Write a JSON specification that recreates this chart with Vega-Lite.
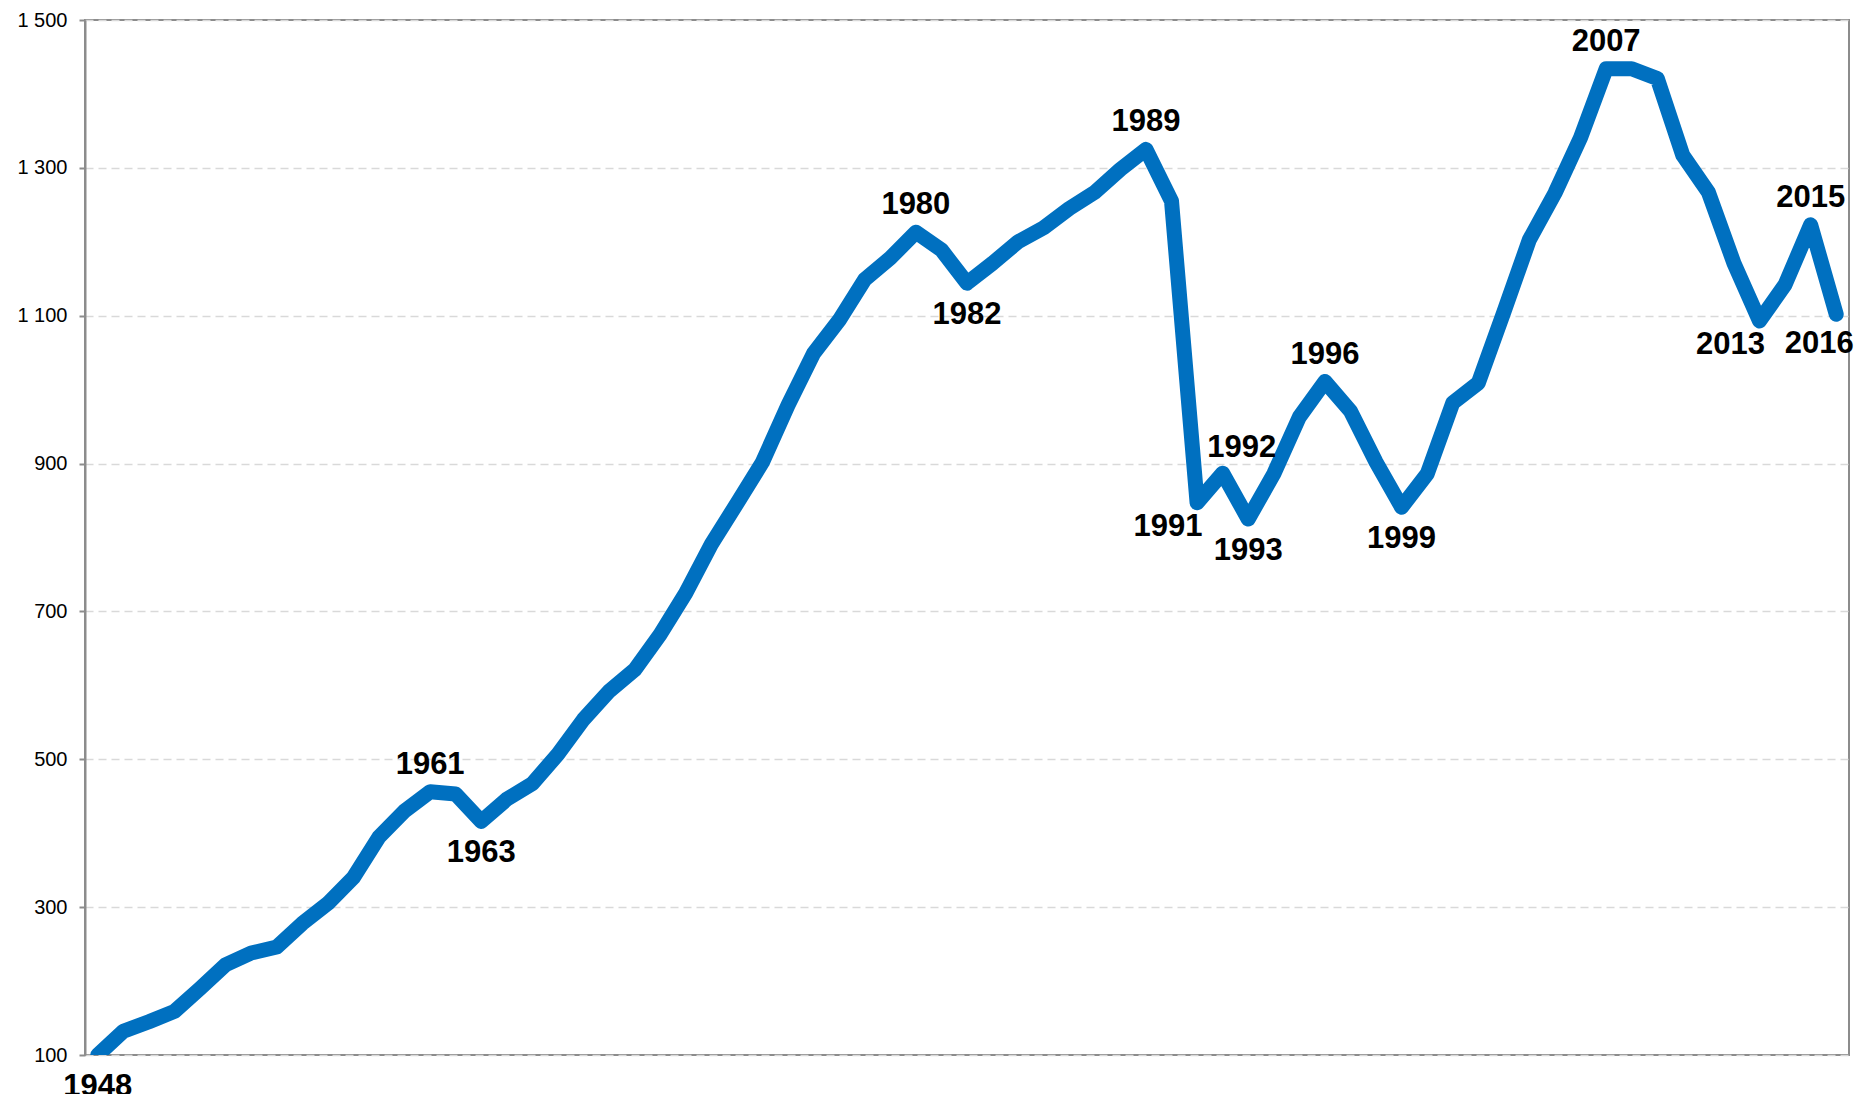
{
  "$schema": "https://vega.github.io/schema/vega-lite/v6.json",
  "width": 1764,
  "height": 1035,
  "autosize": {"type": "none"},
  "padding": {"left": 85, "top": 20, "right": 10, "bottom": 39},
  "background": "white",
  "config": {
    "view": {"stroke": "#8c8c8c", "strokeWidth": 2},
    "font": "Liberation Sans"
  },
  "data": {
    "values": [
      {"year": 1948, "value": 100, "pos": "below"},
      {"year": 1949, "value": 132},
      {"year": 1950, "value": 145},
      {"year": 1951, "value": 159},
      {"year": 1952, "value": 190},
      {"year": 1953, "value": 222},
      {"year": 1954, "value": 238},
      {"year": 1955, "value": 246},
      {"year": 1956, "value": 278},
      {"year": 1957, "value": 305},
      {"year": 1958, "value": 340},
      {"year": 1959, "value": 395},
      {"year": 1960, "value": 430},
      {"year": 1961, "value": 456, "pos": "above"},
      {"year": 1962, "value": 453},
      {"year": 1963, "value": 416, "pos": "below"},
      {"year": 1964, "value": 446},
      {"year": 1965, "value": 467},
      {"year": 1966, "value": 507},
      {"year": 1967, "value": 554},
      {"year": 1968, "value": 592},
      {"year": 1969, "value": 621},
      {"year": 1970, "value": 669},
      {"year": 1971, "value": 725},
      {"year": 1972, "value": 791},
      {"year": 1973, "value": 846},
      {"year": 1974, "value": 902},
      {"year": 1975, "value": 979},
      {"year": 1976, "value": 1049},
      {"year": 1977, "value": 1094},
      {"year": 1978, "value": 1149},
      {"year": 1979, "value": 1178},
      {"year": 1980, "value": 1213, "pos": "above"},
      {"year": 1981, "value": 1189},
      {"year": 1982, "value": 1144, "pos": "below"},
      {"year": 1983, "value": 1171},
      {"year": 1984, "value": 1200},
      {"year": 1985, "value": 1219},
      {"year": 1986, "value": 1245},
      {"year": 1987, "value": 1267},
      {"year": 1988, "value": 1298},
      {"year": 1989, "value": 1325, "pos": "above"},
      {"year": 1990, "value": 1255},
      {"year": 1991, "value": 847, "pos": "belowleft"},
      {"year": 1992, "value": 887, "pos": "aboveright"},
      {"year": 1993, "value": 825, "pos": "below"},
      {"year": 1994, "value": 886},
      {"year": 1995, "value": 963},
      {"year": 1996, "value": 1011, "pos": "above"},
      {"year": 1997, "value": 971},
      {"year": 1998, "value": 902},
      {"year": 1999, "value": 841, "pos": "below"},
      {"year": 2000, "value": 886},
      {"year": 2001, "value": 982},
      {"year": 2002, "value": 1009},
      {"year": 2003, "value": 1105},
      {"year": 2004, "value": 1203},
      {"year": 2005, "value": 1266},
      {"year": 2006, "value": 1341},
      {"year": 2007, "value": 1434, "pos": "above"},
      {"year": 2008, "value": 1434},
      {"year": 2009, "value": 1421},
      {"year": 2010, "value": 1317},
      {"year": 2011, "value": 1267},
      {"year": 2012, "value": 1171},
      {"year": 2013, "value": 1093, "pos": "belowleft"},
      {"year": 2014, "value": 1142},
      {"year": 2015, "value": 1223, "pos": "above"},
      {"year": 2016, "value": 1102, "pos": "belowend"}
    ]
  },
  "encoding": {
    "x": {
      "field": "year",
      "type": "quantitative",
      "scale": {"domain": [1947.5, 2016.5], "nice": false, "zero": false},
      "axis": null
    },
    "y": {
      "field": "value",
      "type": "quantitative",
      "scale": {"domain": [100, 1500], "nice": false, "zero": false},
      "axis": {
        "title": null,
        "values": [100, 300, 500, 700, 900, 1100, 1300, 1500],
        "labelExpr": "replace(format(datum.value, ','), ',', ' ')",
        "labelFont": "Liberation Sans",
        "labelFontSize": 20,
        "labelColor": "#000000",
        "labelPadding": 12,
        "tickSize": 6,
        "tickColor": "#8c8c8c",
        "tickWidth": 2,
        "domainColor": "#8c8c8c",
        "domainWidth": 2,
        "grid": true,
        "gridColor": "#d9d9d9",
        "gridWidth": 1.5,
        "gridDash": [8, 5]
      }
    }
  },
  "layer": [
    {
      "mark": {"type": "line", "color": "#0070C0", "strokeWidth": 15, "strokeJoin": "round", "strokeCap": "round", "clip": true}
    },
    {
      "transform": [{"filter": "datum.pos == 'above'"}],
      "mark": {"type": "text", "font": "Liberation Sans", "fontWeight": "bold", "fontSize": 31, "color": "#000000", "baseline": "middle", "dy": -27},
      "encoding": {"text": {"field": "year", "type": "nominal"}}
    },
    {
      "transform": [{"filter": "datum.pos == 'below'"}],
      "mark": {"type": "text", "font": "Liberation Sans", "fontWeight": "bold", "fontSize": 31, "color": "#000000", "baseline": "middle", "dy": 32},
      "encoding": {"text": {"field": "year", "type": "nominal"}}
    },
    {
      "transform": [{"filter": "datum.pos == 'belowleft'"}],
      "mark": {"type": "text", "font": "Liberation Sans", "fontWeight": "bold", "fontSize": 31, "color": "#000000", "baseline": "middle", "dx": -29, "dy": 24},
      "encoding": {"text": {"field": "year", "type": "nominal"}}
    },
    {
      "transform": [{"filter": "datum.pos == 'aboveright'"}],
      "mark": {"type": "text", "font": "Liberation Sans", "fontWeight": "bold", "fontSize": 31, "color": "#000000", "baseline": "middle", "dx": 19, "dy": -25},
      "encoding": {"text": {"field": "year", "type": "nominal"}}
    },
    {
      "transform": [{"filter": "datum.pos == 'belowend'"}],
      "mark": {"type": "text", "font": "Liberation Sans", "fontWeight": "bold", "fontSize": 31, "color": "#000000", "baseline": "middle", "dx": -17, "dy": 30},
      "encoding": {"text": {"field": "year", "type": "nominal"}}
    }
  ]
}
